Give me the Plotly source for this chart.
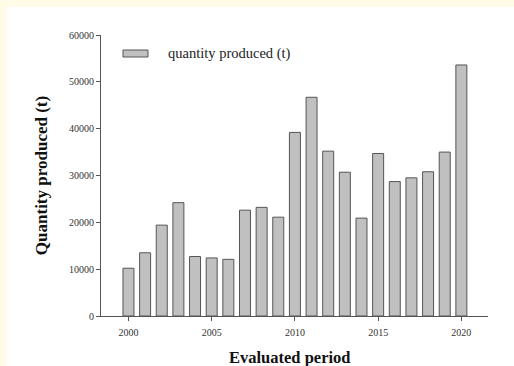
import plotly.graph_objects as go

years = list(range(2000, 2021))
quantity = [10200, 13500, 19400, 24200, 12700, 12400, 12100, 22600, 23200, 21100,
            39200, 46700, 35200, 30700, 20900, 34700, 28700, 29500, 30800, 35000, 53600]
x_ticks = [2000, 2005, 2010, 2015, 2020]
y_ticks = [0, 10000, 20000, 30000, 40000, 50000, 60000]
legend_label = "quantity produced (t)"
x_title = "Evaluated period"
y_title = "Quantity produced (t)"

W, H = 514, 366
L, R, T, B = 101, 26, 35, 50
pw, ph = W - L - R, H - T - B

def px(x):
    return (x - L) / pw

def py(y):
    return (H - B - y) / ph

cream = "#fffbe7"
serif = "Liberation Serif, Times New Roman, serif"

fig = go.Figure()
fig.add_trace(go.Bar(
    x=years, y=quantity, width=0.66,
    marker=dict(color="#c0c0c0", line=dict(color="#555555", width=1)),
    name=legend_label, showlegend=False,
))

fig.update_layout(
    width=W, height=H,
    margin=dict(l=L, r=R, t=T, b=B, pad=0, autoexpand=False),
    paper_bgcolor="white",
    plot_bgcolor="white",
    font=dict(family=serif, color="#333333"),
    xaxis=dict(
        range=[1998.35, 2021.6], tickvals=x_ticks, automargin=False,
        ticks="outside", ticklen=4, tickwidth=1, tickcolor="#555555",
        ticklabelstandoff=3,
        showline=True, linecolor="#555555", linewidth=1,
        showgrid=False, zeroline=False,
        tickfont=dict(size=10, color="#333333"),
    ),
    yaxis=dict(
        range=[0, 60000], tickvals=y_ticks, tickformat="d", automargin=False,
        ticks="outside", ticklen=4, tickwidth=1, tickcolor="#555555",
        showline=True, linecolor="#555555", linewidth=1,
        showgrid=False, zeroline=False,
        tickfont=dict(size=10, color="#333333"),
        title=dict(text="<b>" + y_title + "</b>", font=dict(size=17, color="#111111"), standoff=17),
    ),
    shapes=[
        dict(type="rect", xref="paper", yref="paper",
             x0=px(0), x1=px(7), y0=py(366), y1=py(0),
             fillcolor=cream, line=dict(width=0), layer="below"),
        dict(type="rect", xref="paper", yref="paper",
             x0=px(0), x1=px(W), y0=py(7), y1=py(0),
             fillcolor=cream, line=dict(width=0), layer="below"),
        dict(type="rect", xref="paper", yref="paper",
             x0=px(123), x1=px(148), y0=py(57), y1=py(50),
             fillcolor="#c0c0c0", line=dict(color="#555555", width=1)),
    ],
    annotations=[
        dict(text=legend_label, xref="paper", yref="paper",
             x=px(166), y=py(53), xanchor="left", yanchor="middle",
             showarrow=False, font=dict(size=14.5, color="#222222", family=serif)),
        dict(text="<b>" + x_title + "</b>", xref="paper", yref="paper",
             x=px(289), y=py(357), xanchor="center", yanchor="middle",
             showarrow=False, font=dict(size=16.5, color="#111111", family=serif)),
    ],
)

fig.write_html(
    "out.html", config={"displayModeBar": False},
    post_script=("document.documentElement.style.margin='0';"
                 "document.body.style.margin='0';"
                 "document.documentElement.style.overflow='hidden';"
                 "document.body.style.overflow='hidden';"),
)
